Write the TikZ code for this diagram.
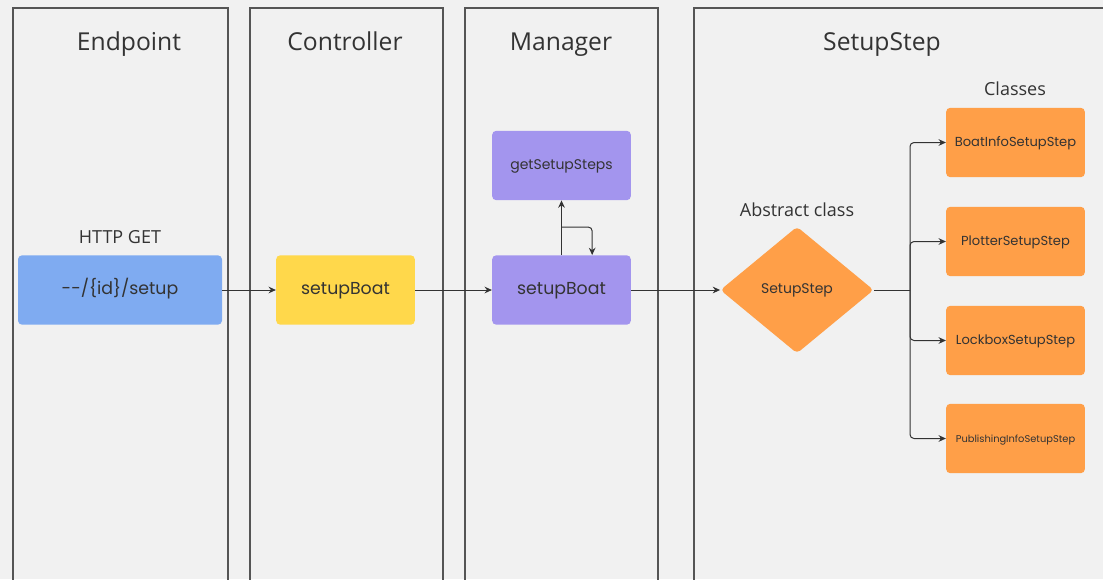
\documentclass[tikz,border=0pt]{standalone}
\usepackage{fontspec}
\setmainfont{Open Sans}
\newfontfamily\boxfont{Poppins}
\usetikzlibrary{arrows.meta,positioning,shapes.geometric}
\definecolor{bg}{HTML}{F1F1F1}
\definecolor{lane}{HTML}{555555}
\definecolor{ink}{HTML}{333333}
\definecolor{endblue}{HTML}{7FABF1}
\definecolor{ctrlyellow}{HTML}{FFD84B}
\definecolor{mgrpurple}{HTML}{A395EE}
\definecolor{steporange}{HTML}{FF9F48}
\tikzset{
  lanebox/.style={draw=lane,line width=0.9pt},
  title/.style={anchor=base,font=\fontsize{18.5}{20}\selectfont,text=ink},
  caption/.style={anchor=base,font=\fontsize{13.5}{15}\selectfont,text=ink},
  block/.style={rectangle,rounded corners=3pt,minimum width=104pt,minimum height=52pt,
    inner sep=0pt,text height=0.62em,text depth=0pt,text=ink,font=\boxfont\fontsize{13}{15}\selectfont},
  cls/.style={block,fill=steporange,font=\boxfont\fontsize{9.8}{11}\selectfont},
  arr/.style={draw=ink,line width=0.75pt,-{Stealth[length=5.5pt,width=5pt]}},
  link/.style={draw=ink,line width=0.75pt}
}
\begin{document}
\begin{tikzpicture}[x=0.75pt,y=-0.75pt]
\fill[bg] (0,0) rectangle (1103,579);
\useasboundingbox (0,0) rectangle (1103,579);
\draw[lanebox] (13,600) -- (13,8) -- (228,8) -- (228,600);
\draw[lanebox] (250,600) -- (250,8) -- (443,8) -- (443,600);
\draw[lanebox] (465,600) -- (465,8) -- (658,8) -- (658,600);
\draw[lanebox] (694,600) -- (694,8) -- (1120,8);

\node[title] (tEnd) at (129,50) {Endpoint};
\node[title] (tCtrl) at (345,50) {Controller};
\node[title] (tMgr) at (561,50) {Manager};
\node[title] (tStep) at (882,50) {SetupStep};

\node[caption] (http) at (120,243) {HTTP GET};
\node[caption] (abs) at (797,216) {Abstract class};
\node[caption] (clsT) at (1015,95) {Classes};

\node[block,fill=endblue,minimum width=153pt] (route) at (120,290) {{-}{-}/\{id\}/setup};
\node[block,fill=ctrlyellow] (ctrl) at (345.5,290) {setupBoat};
\node[block,fill=mgrpurple] (mgr) at (561.5,290) {setupBoat};
\node[block,fill=mgrpurple,font=\boxfont\fontsize{10.5}{12}\selectfont] (steps) at (561.5,165.5) {getSetupSteps};
\node[diamond,fill=steporange,minimum width=115pt,minimum height=95pt,inner sep=0pt,
  rounded corners=3pt,text=ink,font=\boxfont\fontsize{10.5}{12}\selectfont] (ss) at (797,290) {SetupStep};

\node[cls] (c1) at (1015.5,142.5) {BoatInfoSetupStep};
\node[cls] (c2) at (1015.5,241.5) {PlotterSetupStep};
\node[cls] (c3) at (1015.5,340.5) {LockboxSetupStep};
\node[cls,font=\boxfont\fontsize{7.4}{8}\selectfont] (c4) at (1015.5,438.5) {PublishingInfoSetupStep};

\coordinate (up) at (561,227);
\coordinate (fork) at (910,290);

\draw[arr] (route) -- (ctrl);
\draw[arr] (ctrl) -- (mgr);
\draw[arr] (mgr) -- (ss);
\draw[arr] (mgr.north) -- (steps.south);
\draw[arr,rounded corners=3pt] (up) -| ([xshift=23pt]mgr.north);
\draw[link] (ss.east) -- (fork);
\foreach \c in {c1,c2,c3,c4}
  \draw[arr,rounded corners=3pt] (fork) |- (\c.west);
\end{tikzpicture}
\end{document}
